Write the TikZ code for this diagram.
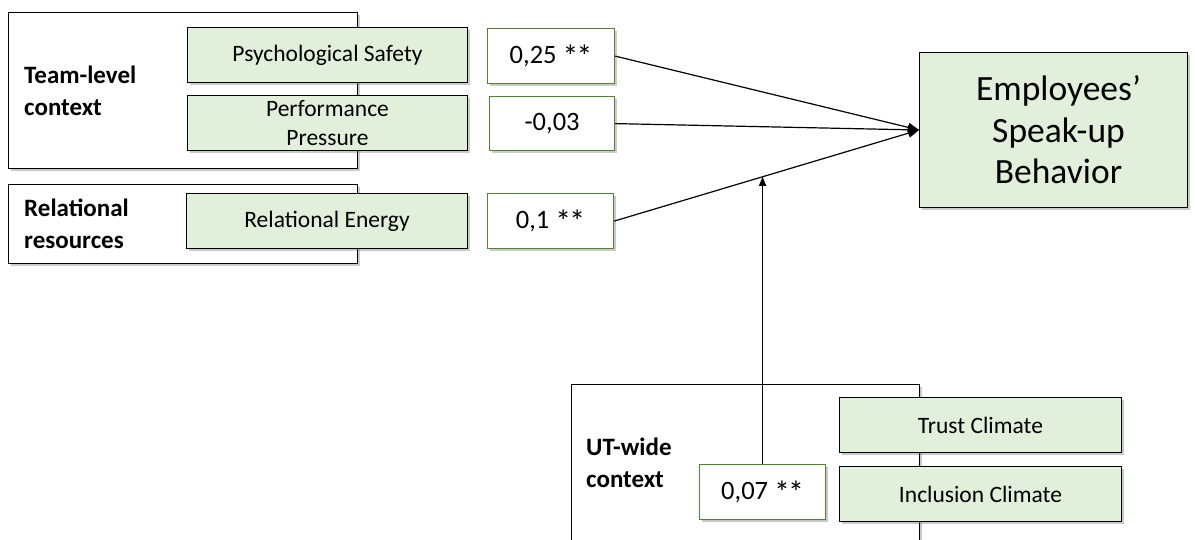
\documentclass[tikz,border=0pt]{standalone}
\usepackage{fontspec}
\usepackage{graphicx}
\setmainfont{Carlito}
\usetikzlibrary{shadows,arrows.meta,calc}
\definecolor{varfill}{HTML}{E2EFDA}
\definecolor{coefline}{HTML}{548235}
% significance stars, set a little larger and closer together
\newcommand\sigstars{\raisebox{-3.5pt}{\scalebox{1.2}{*\kern-1.5pt*}}}
\tikzset{
  shade box/.style={drop shadow={shadow xshift=2.5pt,shadow yshift=-2.5pt,opacity=0.35,fill=black!60}},
  ctx/.style={draw=black,fill=white,line width=1pt,shade box,anchor=north west,inner sep=0pt},
  ctxlabel/.style={anchor=west,align=left,inner sep=0pt,font=\fontsize{25}{31.5}\selectfont\bfseries},
  var/.style={draw=black,fill=varfill,line width=1pt,shade box,anchor=north west,align=center,
    inner sep=0pt,font=\fontsize{23.5}{28.5}\selectfont},
  coef/.style={draw=coefline,fill=white,line width=1.2pt,shade box,anchor=north west,align=center,
    inner sep=0pt,font=\fontsize{26.5}{30}\selectfont},
  outcome/.style={draw=black,fill=varfill,line width=1pt,shade box,anchor=north west,align=center,
    inner sep=0pt,font=\fontsize{35.5}{41.5}\selectfont},
  conn/.style={line width=1.2pt,-{Triangle[length=11pt,width=9pt]}},
  modconn/.style={line width=1.2pt,-{Triangle[length=9pt,width=7pt]}}
}
\begin{document}
\begin{tikzpicture}[x=1pt,y=-1pt]
\useasboundingbox (0,0) rectangle (1195,539);

% context frames
\node[ctx,minimum width=349pt,minimum height=156pt] (team) at (8,12) {};
\node[ctx,minimum width=349pt,minimum height=79pt] (rel) at (8,184) {};
\node[ctx,minimum width=348pt,minimum height=200pt] (ut) at (571,384) {};

\node[ctxlabel] (teamlab) at (24,91) {Team-level\\context};
\node[ctxlabel] (rellab) at (24,224) {Relational\\resources};
\node[ctxlabel] (utlab) at (586,463) {UT-wide\\context};

% predictors
\node[var,minimum width=280pt,minimum height=55pt] (ps) at (187,27) {Psychological Safety};
\node[var,minimum width=280pt,minimum height=55pt] (pp) at (187,95) {Performance\\Pressure};
\node[var,minimum width=281pt,minimum height=55pt] (re) at (186,193) {Relational Energy};
\node[var,minimum width=282pt,minimum height=55pt] (tc) at (839,397) {Trust Climate};
\node[var,minimum width=282pt,minimum height=55pt] (ic) at (839,466) {Inclusion Climate};

% coefficients
\node[coef,minimum width=127pt,minimum height=55pt] (c1) at (487,28) {0,25 \sigstars};
\node[coef,minimum width=125pt,minimum height=54pt] (c2) at (489,96) {-0,03};
\node[coef,minimum width=126pt,minimum height=55pt] (c3) at (487,193) {0,1 \sigstars};

% outcome
\node[outcome,minimum width=268pt,minimum height=155pt] (eb) at (919,52) {\hspace*{10pt}Employees’\\\hspace*{10pt}Speak-up\\\hspace*{10pt}Behavior};

% paths
\draw[conn] (c1.east) -- (eb.west);
\draw[conn] (c2.east) -- (eb.west);
\draw[conn] (c3.east) -- (eb.west);

\node[coef,minimum width=126pt,minimum height=55pt] (c4) at (699,464) {0,07 \sigstars};
\coordinate (modtop) at (c4.north |- eb.north);
\coordinate (mod) at (intersection of c3.east--eb.west and c4.north--modtop);
\draw[modconn] (c4.north) -- (mod);
\end{tikzpicture}
\end{document}
